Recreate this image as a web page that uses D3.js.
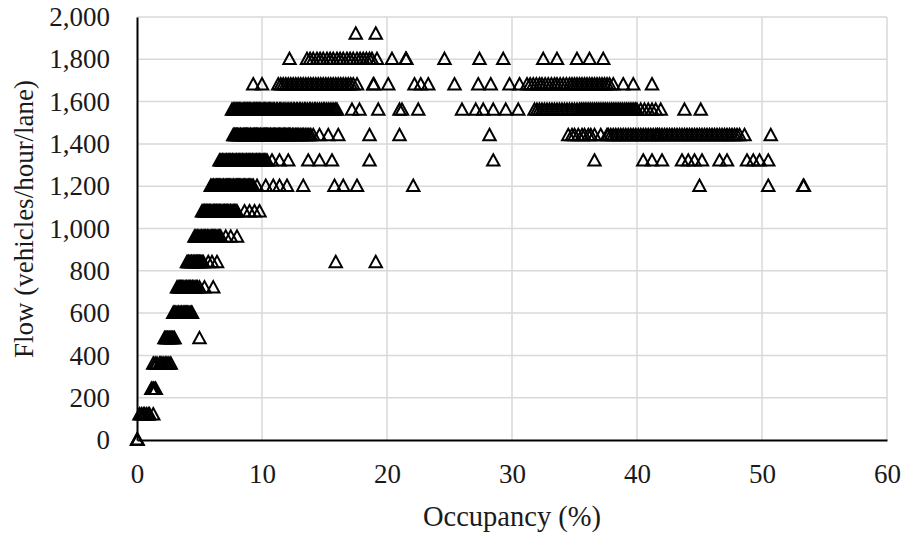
<!DOCTYPE html>
<html>
<head>
<meta charset="utf-8">
<script src="https://cdn.jsdelivr.net/npm/d3@7"></script>
<style>
  html, body { margin: 0; padding: 0; background: #fff; }
  svg { display: block; }
  text { font-family: "Liberation Serif", "Times New Roman", serif; fill: #1a1a1a; }
</style>
</head>
<body>
<svg id="chart" width="906" height="536"></svg>
<script>
// Flow levels (vehicles/hour/lane) and the occupancy (%) readings observed at each level
const flowLevels = [0, 120, 240, 360, 480, 600, 720, 840, 960, 1080, 1200, 1320, 1440, 1560, 1680, 1800, 1920];

const occ0 = [0, 0.02, 0.05];
const occ120 = [0.2, 0.35, 0.5, 0.6, 0.75, 0.9, 1.0, 1.3];
const occ240 = [1.15, 1.2, 1.3, 1.35, 1.45, 1.5];
const occ360 = [1.3, 1.45, 1.6, 1.8, 1.9, 2.0, 2.15, 2.3, 2.4, 2.55, 2.7];
const occ480 = [2.2, 2.3, 2.35, 2.45, 2.5, 2.6, 2.7, 2.75, 2.85, 2.95, 3.0, 5.0];
const occ600 = [2.9, 3.0, 3.1, 3.2, 3.3, 3.35, 3.45, 3.55, 3.6, 3.7, 3.8, 3.9, 3.95, 4.05, 4.15, 4.25, 4.35, 4.4];
const occ720 = [3.2, 3.3, 3.4, 3.5, 3.55, 3.65, 3.75, 3.85, 3.95, 4.0, 4.1, 4.2, 4.3, 4.4, 4.45, 4.55, 4.65, 4.75, 4.85, 5.0, 5.4, 6.1];
const occ840 = [4.0, 4.1, 4.15, 4.25, 4.35, 4.4, 4.5, 4.6, 4.65, 4.75, 4.85, 4.9, 5.0, 5.1, 5.2, 5.3, 5.7, 6.0, 6.4, 15.9, 19.1];
const occ960 = [4.6, 4.7, 4.8, 4.85, 4.95, 5.05, 5.15, 5.2, 5.3, 5.4, 5.5, 5.6, 5.65, 5.75, 5.85, 5.95, 6.05, 6.1, 6.2, 6.3, 6.4, 6.5, 6.6, 6.7, 7.1, 7.5, 8.0];
const occ1080 = [5.2, 5.3, 5.4, 5.45, 5.55, 5.65, 5.75, 5.8, 5.9, 6.0, 6.1, 6.2, 6.25, 6.35, 6.45, 6.55, 6.6, 6.7, 6.8, 6.9, 7.0, 7.05, 7.15, 7.25, 7.35, 7.45, 7.5, 7.6, 7.7, 7.8, 7.9, 8.0, 8.6, 9.0, 9.4, 9.8];
const occ1200 = [5.9, 6.0, 6.1, 6.15, 6.25, 6.35, 6.45, 6.5, 6.6, 6.7, 6.8, 6.9, 6.95, 7.05, 7.15, 7.25, 7.3, 7.4, 7.5, 7.6, 7.7, 7.75, 7.85, 7.95, 8.05, 8.1, 8.2, 8.3, 8.4, 8.5, 8.6, 8.7, 8.8, 8.9, 9.0, 9.1, 9.2, 9.3, 9.6, 10.3, 10.9, 11.4, 12.0, 13.3, 15.8, 16.5, 17.6, 22.1, 45.0, 50.5, 53.3, 53.35];
const occ1320 = [6.6, 6.7, 6.8, 6.85, 6.95, 7.05, 7.15, 7.2, 7.3, 7.4, 7.5, 7.6, 7.65, 7.75, 7.85, 7.95, 8.0, 8.1, 8.2, 8.3, 8.4, 8.45, 8.55, 8.65, 8.75, 8.8, 8.9, 9.0, 9.1, 9.2, 9.25, 9.35, 9.45, 9.55, 9.6, 9.7, 9.8, 9.9, 10.0, 10.1, 10.2, 10.3, 10.4, 10.8, 11.4, 12.1, 13.7, 14.6, 15.6, 18.6, 28.5, 36.6, 40.5, 41.2, 42.0, 43.6, 44.1, 44.6, 45.2, 46.6, 47.2, 48.8, 49.3, 49.8, 50.5];
const occ1440 = [7.7, 7.8, 7.9, 7.95, 8.05, 8.15, 8.25, 8.3, 8.4, 8.5, 8.6, 8.7, 8.75, 8.85, 8.95, 9.05, 9.1, 9.2, 9.3, 9.4, 9.5, 9.55, 9.65, 9.75, 9.85, 9.9, 10.0, 10.1, 10.2, 10.3, 10.35, 10.45, 10.55, 10.65, 10.7, 10.8, 10.9, 11.0, 11.1, 11.2, 11.3, 11.4, 11.5, 11.6, 11.7, 11.8, 11.9, 12.0, 12.1, 12.2, 12.3, 12.45, 12.55, 12.7, 12.8, 12.9, 13.05, 13.2, 13.3, 13.45, 13.6, 13.75, 13.9, 14.1, 14.6, 15.3, 16.1, 18.6, 21.0, 28.2,
  34.5, 34.8, 35.0, 35.3, 35.6, 35.8, 36.1, 36.3, 36.6, 37.1, 37.6, 37.7, 37.9, 38.1, 38.3, 38.5, 38.7, 38.9, 39.1, 39.3, 39.5, 39.7, 39.9, 40.1, 40.3, 40.5, 40.7, 40.9, 41.1, 41.3, 41.5, 41.65, 41.8, 42.0, 42.2, 42.4, 42.6, 42.8, 43.0, 43.2, 43.4, 43.6, 43.8, 44.0, 44.2, 44.4, 44.6, 44.8, 45.0, 45.2, 45.4, 45.6, 45.8, 46.0, 46.2, 46.4, 46.6, 46.8, 47.0, 47.2, 47.4, 47.6, 47.8, 48.0, 48.2, 48.6, 50.7];
const occ1560 = [7.6, 7.7, 7.8, 7.85, 7.95, 8.05, 8.15, 8.2, 8.3, 8.4, 8.5, 8.6, 8.65, 8.75, 8.85, 8.95, 9.0, 9.1, 9.2, 9.3, 9.4, 9.45, 9.55, 9.65, 9.75, 9.8, 9.9, 10.0, 10.1, 10.2, 10.3, 10.4, 10.5, 10.6, 10.7, 10.8, 10.9, 11.0, 11.15, 11.25, 11.4, 11.5, 11.6, 11.75, 11.85, 12.0, 12.1, 12.25, 12.35, 12.5, 12.6, 12.75, 12.85, 13.0, 13.1, 13.25, 13.4, 13.5, 13.65, 13.8, 13.9, 14.05, 14.2, 14.3, 14.45, 14.6, 14.75, 14.9, 15.0, 15.15, 15.3, 15.45, 15.6, 15.75, 15.9, 16.0, 17.2, 17.8, 19.3, 21.0, 21.2, 22.5, 26.0, 27.1, 27.7, 28.5, 29.5, 30.5,
  31.8, 32.0, 32.2, 32.4, 32.6, 32.8, 33.0, 33.2, 33.4, 33.6, 33.8, 34.0, 34.2, 34.4, 34.6, 34.8, 35.0, 35.2, 35.4, 35.55, 35.7, 35.85, 36.0, 36.15, 36.3, 36.45, 36.6, 36.75, 36.9, 37.05, 37.2, 37.35, 37.5, 37.65, 37.8, 37.95, 38.1, 38.25, 38.4, 38.55, 38.7, 38.85, 39.0, 39.15, 39.3, 39.45, 39.6, 39.75, 39.9, 40.0, 40.3, 40.6, 40.9, 41.2, 41.5, 41.9, 43.8, 45.1];
const occ1680 = [9.3, 10.0, 11.3, 11.5, 11.7, 11.9, 12.1, 12.3, 12.5, 12.7, 12.9, 13.1, 13.3, 13.5, 13.7, 13.9, 14.1, 14.3, 14.5, 14.7, 14.9, 15.1, 15.3, 15.5, 15.7, 15.9, 16.1, 16.3, 16.5, 16.7, 16.9, 17.1, 17.3, 17.6, 18.9, 18.95, 20.1, 22.2, 22.7, 23.3, 25.4, 27.3, 28.3, 29.8, 30.6,
  31.2, 31.45, 31.7, 31.95, 32.2, 32.4, 32.65, 32.9, 33.15, 33.4, 33.6, 33.85, 34.1, 34.35, 34.6, 34.8, 35.0, 35.2, 35.4, 35.6, 35.8, 36.0, 36.2, 36.4, 36.6, 36.8, 37.0, 37.2, 37.4, 37.6, 37.8, 38.1, 38.9, 39.7, 41.2];
const occ1800 = [12.2, 13.6, 13.85, 14.1, 14.4, 14.65, 14.9, 15.2, 15.45, 15.7, 16.0, 16.25, 16.5, 16.8, 17.05, 17.3, 17.6, 17.85, 18.1, 18.35, 18.6, 18.8, 19.2, 20.4, 21.5, 21.55, 24.6, 27.4, 29.3, 32.5, 33.6, 35.2, 36.2, 37.3];
const occ1920 = [17.5, 19.1];

const occupancyByLevel = [occ0, occ120, occ240, occ360, occ480, occ600, occ720, occ840, occ960, occ1080, occ1200, occ1320, occ1440, occ1560, occ1680, occ1800, occ1920];

const xTicks = [0, 10, 20, 30, 40, 50, 60];
const yTicks = [0, 200, 400, 600, 800, 1000, 1200, 1400, 1600, 1800, 2000];

// Flatten into observation points
const points = [];
flowLevels.forEach((flow, i) => {
  occupancyByLevel[i].forEach(occ => points.push({ occ, flow }));
});

const width = 906, height = 536;
const margin = { top: 17, right: 19, bottom: 96, left: 137 };
const innerW = width - margin.left - margin.right;
const innerH = height - margin.top - margin.bottom;

const svg = d3.select("#chart");
const g = svg.append("g").attr("transform", `translate(${margin.left},${margin.top})`);

const x = d3.scaleLinear().domain([0, 60]).range([0, innerW]);
const y = d3.scaleLinear().domain([0, 2000]).range([innerH, 0]);

// Gridlines
g.append("g").selectAll("line")
  .data(yTicks.filter(t => t > 0))
  .join("line")
  .attr("x1", 0).attr("x2", innerW)
  .attr("y1", d => y(d)).attr("y2", d => y(d))
  .attr("stroke", "#d9d9d9").attr("stroke-width", 1.5);

g.append("g").selectAll("line")
  .data(xTicks.filter(t => t > 0))
  .join("line")
  .attr("x1", d => x(d)).attr("x2", d => x(d))
  .attr("y1", 0).attr("y2", innerH)
  .attr("stroke", "#d9d9d9").attr("stroke-width", 1.5);

// Axes
const xAxis = d3.axisBottom(x).tickValues(xTicks).tickSize(0).tickPadding(24);
const yAxis = d3.axisLeft(y).tickValues(yTicks).tickSize(0).tickPadding(27).tickFormat(d3.format(","));

const gx = g.append("g").attr("transform", `translate(0,${innerH})`).call(xAxis);
const gy = g.append("g").call(yAxis);

[gx, gy].forEach(a => {
  a.select(".domain").attr("stroke", "#000").attr("stroke-width", 2);
  a.selectAll("text")
    .attr("fill", "#1a1a1a")
    .style("font-family", '"Liberation Serif", "Times New Roman", serif')
    .style("font-size", "27px");
});

// Triangle markers (outline only)
const tri = "M0,-6.6L6.2,4.8L-6.2,4.8Z";
g.append("g").selectAll("path")
  .data(points)
  .join("path")
  .attr("d", tri)
  .attr("transform", d => `translate(${x(d.occ)},${y(d.flow)})`)
  .attr("fill", "none")
  .attr("stroke", "#000")
  .attr("stroke-width", 2)
  .attr("stroke-linejoin", "miter");

// Axis titles
svg.append("text")
  .attr("x", margin.left + innerW / 2)
  .attr("y", 526)
  .attr("text-anchor", "middle")
  .style("font-size", "28.5px")
  .text("Occupancy (%)");

svg.append("text")
  .attr("transform", `translate(33,${219}) rotate(-90)`)
  .attr("text-anchor", "middle")
  .style("font-size", "27px")
  .text("Flow (vehicles/hour/lane)");
</script>
</body>
</html>
